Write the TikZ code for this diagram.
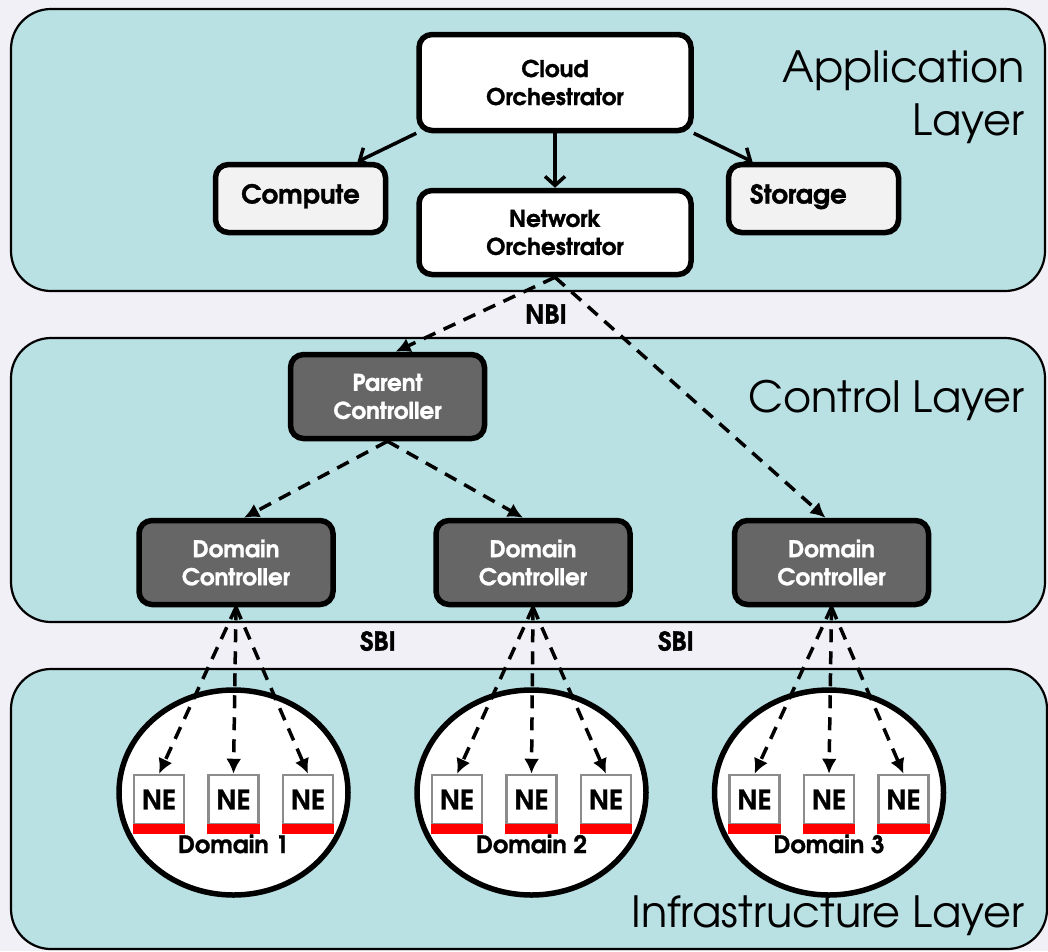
\documentclass[tikz,border=0pt]{standalone}
\usepackage{fontspec}
\setmainfont{TeX Gyre Adventor}[BoldFeatures={FakeBold=1.2}]
\usetikzlibrary{arrows.meta,shapes.geometric}
\definecolor{layerfill}{RGB}{185,224,227}
\definecolor{ctrlfill}{RGB}{102,102,102}
\definecolor{svcfill}{RGB}{242,242,242}
\definecolor{pagebg}{RGB}{240,240,246}
\definecolor{nered}{RGB}{255,0,0}
\definecolor{negray}{RGB}{140,140,140}
\begin{document}
\begin{tikzpicture}[x=1pt,y=-1pt,
  layer/.style={draw=black, line width=2.2pt, fill=layerfill, rounded corners=40pt},
  box/.style={draw=black, line width=5.5pt, rounded corners=13pt, align=center,
    font=\fontsize{23}{28}\selectfont\bfseries, inner sep=0pt},
  appbox/.style={box, fill=white},
  svcbox/.style={box, fill=svcfill, font=\fontsize{26}{28}\selectfont\bfseries,
    text height=16pt, text depth=6pt},
  ctrlbox/.style={box, fill=ctrlfill, text=white},
  title/.style={font=\fontsize{43}{48}\selectfont, anchor=base east, inner sep=0pt},
  iface/.style={font=\fontsize{26}{28}\selectfont\bfseries, inner sep=0pt},
  domcircle/.style={ellipse, draw=black, line width=5.5pt, fill=white,
    minimum width=229pt, minimum height=205pt, inner sep=0pt},
  nebox/.style={draw=negray, line width=2.5pt, fill=white, minimum width=50pt,
    minimum height=49pt, inner sep=0pt, font=\fontsize{27}{27}\selectfont\bfseries},
  domlabel/.style={font=\fontsize{24}{24}\selectfont\bfseries, anchor=base, inner sep=0pt},
  solidarrow/.style={line width=3.5pt, -{Straight Barb[length=9pt,width=20pt]}},
  dasharrow/.style={line width=3.5pt, dash pattern=on 13pt off 9pt,
    -{Latex[length=15pt,width=15pt]}},
]
% page
\useasboundingbox (0,0) rectangle (1048,951);
\clip (0,0) rectangle (1048,951);
\fill[pagebg] (0,0) rectangle (1048,951);

% layers
\draw[layer] (11,9) rectangle (1045,291);
\draw[layer] (11,338) rectangle (1045,622);
\draw[layer] (11,669) rectangle (1047,949);

\node[title] (apptitle) at (1025,82) {Application};
\node[title] (apptitleb) at (1025,135) {Layer};
\node[title] (ctrltitle) at (1025,412) {Control Layer};
\node[title] (infratitle) at (1025,927) {Infrastructure Layer};

% application layer
\node[appbox, minimum width=272pt, minimum height=96pt] (cloud) at (555,82.5) {Cloud\\Orchestrator};
\node[svcbox, minimum width=170pt, minimum height=68pt] (compute) at (300.5,198.5) {Compute};
\node[svcbox, minimum width=170pt, minimum height=68pt, text width=127pt, align=left] (storage) at (813.5,198.5) {Storage};
\node[appbox, minimum width=272pt, minimum height=84pt] (netorch) at (555,232.5) {Network\\Orchestrator};

\draw[solidarrow] (cloud.south west) -- ([xshift=57pt]compute.north);
\draw[solidarrow] (cloud.south east) -- ([xshift=-61pt]storage.north);
\draw[solidarrow] (cloud.south) -- (netorch.north);

% control layer
\node[ctrlbox, minimum width=194pt, minimum height=84pt] (parent) at (387.5,396.5) {Parent\\Controller};
\node[ctrlbox, minimum width=194pt, minimum height=84pt] (dc1) at (236,562.5) {Domain\\Controller};
\node[ctrlbox, minimum width=194pt, minimum height=84pt] (dc2) at (533,562.5) {Domain\\Controller};
\node[ctrlbox, minimum width=194pt, minimum height=84pt] (dc3) at (831.5,562.5) {Domain\\Controller};

\node[iface] (nbi) at (546,314) {NBI};
\node[iface] (sbia) at (378,641) {SBI};
\node[iface] (sbib) at (676,641) {SBI};

\draw[dasharrow] (netorch.south) -- ([xshift=8pt]parent.north);
\draw[dasharrow] (netorch.south) -- ([xshift=-6pt]dc3.north);
\draw[dasharrow] (parent.south) -- ([xshift=8pt]dc1.north);
\draw[dasharrow] (parent.south) -- ([xshift=-10pt]dc2.north);

% infrastructure layer: domains with network elements
\foreach \i/\cx in {1/233.5,2/531.5,3/829}{
  \node[domcircle] (dom\i) at (\cx,792.5) {};
  \foreach \j/\dx in {a/-74.5,b/0,c/74.5}{
    \node[nebox] (ne\i\j) at (\cx+\dx,799.5) {NE};
    \fill[nered] ([yshift=1pt]ne\i\j.south west) rectangle ([yshift=-9pt]ne\i\j.south east);
  }
  \node[domlabel] (domlabel\i) at (\cx,853) {Domain \i};
  \draw[dasharrow] (dc\i.south) -- (ne\i a.north);
  \draw[dasharrow] (dc\i.south) -- (ne\i b.north);
  \draw[dasharrow] (dc\i.south) -- (ne\i c.north);
}
\end{tikzpicture}
\end{document}
